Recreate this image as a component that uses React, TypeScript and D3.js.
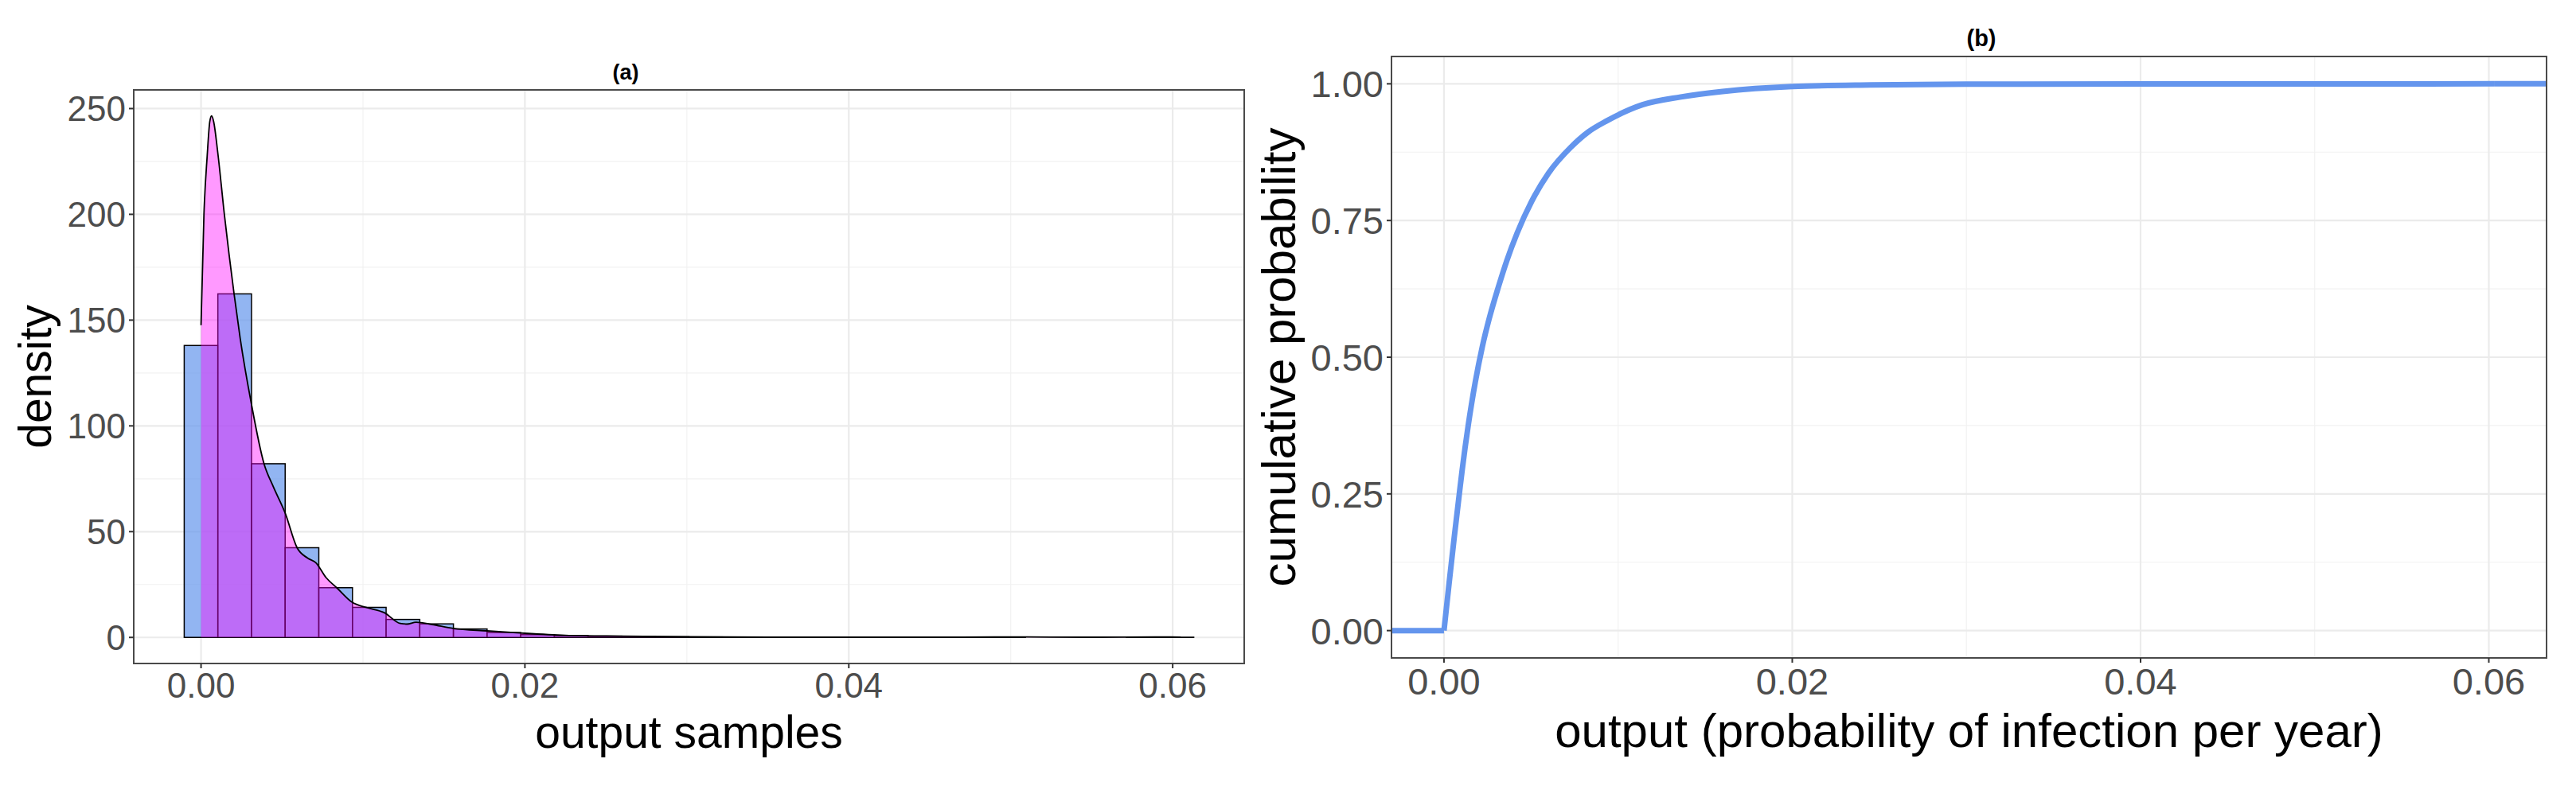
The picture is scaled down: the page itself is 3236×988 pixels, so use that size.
import * as d3 from 'd3';
import { useEffect, useRef } from 'react';

const W = 3236;
const H = 988;

// (a) histogram of output samples: density in each bin, bins centred on k * binWidth
const binWidth = 0.002078;
const binDensity = [
  138.0, 162.4, 82.1, 42.4, 23.5, 14.2, 8.5, 6.4, 4.0, 2.3, 1.3, 0.9, 0.6, 0.4, 0.3,
  0.2, 0.15, 0.1, 0.1, 0.05, 0.05, 0.05, 0.05, 0.1, 0.05, 0, 0, 0, 0.05, 0.1,
];

// (a) kernel density of the same samples
const densX = [
  0, 0.00018, 0.00038, 0.00054, 0.00065, 0.00078, 0.00103, 0.00144, 0.00204, 0.00242,
  0.0031, 0.00389, 0.00446, 0.0052, 0.00593, 0.00658, 0.00708, 0.00773, 0.00838, 0.00935,
  0.01018, 0.01132, 0.0123, 0.01271, 0.01328, 0.01426, 0.01557, 0.01765, 0.01949, 0.0225,
  0.026, 0.03, 0.035, 0.04, 0.045, 0.049, 0.051, 0.055, 0.059, 0.0605,
];
const densY = [
  147.6, 200, 227.6, 243.8, 246.5, 243.8, 229.4, 200, 162.4, 141.3,
  110.8, 82.1, 71.3, 58.7, 42.4, 37.5, 35.4, 28.2, 23.5, 16.5,
  14.2, 11.7, 6.6, 6.3, 7.2, 6.1, 4.3, 3.1, 2.2, 1.0,
  0.6, 0.3, 0.15, 0.1, 0.08, 0.25, 0.2, 0.08, 0.2, 0.15,
];

// (b) empirical cumulative distribution
const cdfX = [
  0, 0.0003, 0.0006, 0.0009, 0.00104, 0.0014, 0.0018, 0.0022, 0.0026, 0.00312,
  0.0036, 0.0042, 0.0052, 0.006, 0.00727, 0.0083, 0.00935, 0.0114, 0.0136, 0.016,
  0.02, 0.0245, 0.03, 0.04, 0.0603,
];
const cdfY = [
  0, 0.0885, 0.174, 0.2555, 0.2925, 0.377, 0.455, 0.519, 0.571, 0.628,
  0.676, 0.727, 0.795, 0.8366, 0.8836, 0.9124, 0.9324, 0.9618, 0.976, 0.986,
  0.995, 0.998, 0.9993, 0.9998, 1,
];

const xTicksA = [0, 0.02, 0.04, 0.06];
const yTicksA = [0, 50, 100, 150, 200, 250];
const xTicksB = [0, 0.02, 0.04, 0.06];
const yTicksB = [0, 0.25, 0.5, 0.75, 1];

const FONT = '"Liberation Sans", Arial, sans-serif';

// ggplot style 5% expansion
const expand = (lo, hi) => {
  const p = (hi - lo) * 0.05;
  return [lo - p, hi + p];
};

const midpoints = (ticks, step, dom) => {
  const out = [];
  for (let i = -1; i < ticks.length; i++) {
    const m = (i < 0 ? ticks[0] - step : ticks[i]) + step / 2;
    if (m > dom[0] && m < dom[1]) out.push(m);
  }
  return out;
};

function drawFrame(g, cfg) {
  const { x, y, xTicks, yTicks, xStep, yStep } = cfg;
  const [x0, x1] = x.range();
  const [y0, y1] = y.range();

  // minor grid
  g.append('g')
    .selectAll('line')
    .data(midpoints(xTicks, xStep, x.domain()))
    .join('line')
    .attr('x1', (d) => x(d)).attr('x2', (d) => x(d))
    .attr('y1', y0).attr('y2', y1)
    .attr('stroke', '#F2F2F2').attr('stroke-width', 1.2);
  g.append('g')
    .selectAll('line')
    .data(midpoints(yTicks, yStep, y.domain()))
    .join('line')
    .attr('y1', (d) => y(d)).attr('y2', (d) => y(d))
    .attr('x1', x0).attr('x2', x1)
    .attr('stroke', '#F2F2F2').attr('stroke-width', 1.2);
  // major grid
  g.append('g')
    .selectAll('line')
    .data(xTicks)
    .join('line')
    .attr('x1', (d) => x(d)).attr('x2', (d) => x(d))
    .attr('y1', y0).attr('y2', y1)
    .attr('stroke', '#EBEBEB').attr('stroke-width', 2.2);
  g.append('g')
    .selectAll('line')
    .data(yTicks)
    .join('line')
    .attr('y1', (d) => y(d)).attr('y2', (d) => y(d))
    .attr('x1', x0).attr('x2', x1)
    .attr('stroke', '#EBEBEB').attr('stroke-width', 2.2);
}

function drawAxes(g, cfg) {
  const { x, y, xTicks, yTicks, tickFont, xFmt, yFmt, xTitle, yTitle, titleFont, xTitleY, yTitleX } = cfg;
  const [x0, x1] = x.range();
  const [y0, y1] = y.range();

  g.append('rect')
    .attr('x', x0).attr('y', y1)
    .attr('width', x1 - x0).attr('height', y0 - y1)
    .attr('fill', 'none').attr('stroke', '#4a4a4a').attr('stroke-width', 2);

  // x ticks
  g.append('g')
    .selectAll('line')
    .data(xTicks)
    .join('line')
    .attr('x1', (d) => x(d)).attr('x2', (d) => x(d))
    .attr('y1', y0).attr('y2', y0 + 6)
    .attr('stroke', '#333').attr('stroke-width', 2);
  g.append('g')
    .selectAll('text')
    .data(xTicks)
    .join('text')
    .attr('x', (d) => x(d))
    .attr('y', y0 + 6 + tickFont * 0.85)
    .attr('text-anchor', 'middle')
    .attr('font-family', FONT).attr('font-size', tickFont)
    .attr('fill', '#4D4D4D')
    .text(xFmt);

  // y ticks
  g.append('g')
    .selectAll('line')
    .data(yTicks)
    .join('line')
    .attr('y1', (d) => y(d)).attr('y2', (d) => y(d))
    .attr('x1', x0 - 6).attr('x2', x0)
    .attr('stroke', '#333').attr('stroke-width', 2);
  g.append('g')
    .selectAll('text')
    .data(yTicks)
    .join('text')
    .attr('x', x0 - 10)
    .attr('y', (d) => y(d) + tickFont * 0.36)
    .attr('text-anchor', 'end')
    .attr('font-family', FONT).attr('font-size', tickFont)
    .attr('fill', '#4D4D4D')
    .text(yFmt);

  // axis titles
  g.append('text')
    .attr('x', (x0 + x1) / 2)
    .attr('y', xTitleY)
    .attr('text-anchor', 'middle')
    .attr('font-family', FONT).attr('font-size', titleFont)
    .attr('fill', 'black')
    .text(xTitle);
  g.append('text')
    .attr('transform', `translate(${yTitleX}, ${(y0 + y1) / 2}) rotate(-90)`)
    .attr('text-anchor', 'middle')
    .attr('font-family', FONT).attr('font-size', titleFont)
    .attr('fill', 'black')
    .text(yTitle);
}

const App = () => {
  const ref = useRef(null);

  useEffect(() => {
    document.body.style.margin = '0';
    const svg = d3.select(ref.current);
    svg.selectAll('*').remove();

    svg.append('rect').attr('width', W).attr('height', H).attr('fill', 'white');

    // ---------- (a) histogram + density ----------
    const lastEdge = (binDensity.length - 0.5) * binWidth;
    const xA = d3.scaleLinear().domain(expand(-binWidth / 2, lastEdge)).range([168, 1563]);
    const yA = d3.scaleLinear().domain(expand(0, d3.max(densY))).range([834, 113]);
    const gA = svg.append('g');
    const cfgA = {
      x: xA, y: yA, xTicks: xTicksA, yTicks: yTicksA, xStep: 0.02, yStep: 50,
      tickFont: 44, xFmt: d3.format('.2f'), yFmt: d3.format('d'),
      xTitle: 'output samples', yTitle: 'density', titleFont: 57,
      xTitleY: 940, yTitleX: 64,
    };
    drawFrame(gA, cfgA);

    gA.append('g')
      .selectAll('rect')
      .data(binDensity)
      .join('rect')
      .attr('x', (d, i) => xA((i - 0.5) * binWidth))
      .attr('width', xA(binWidth) - xA(0))
      .attr('y', (d) => yA(d))
      .attr('height', (d) => yA(0) - yA(d))
      .attr('fill', '#6495ED').attr('fill-opacity', 0.7)
      .attr('stroke', 'black').attr('stroke-width', 1.5);

    const dens = densX.map((v, i) => [v, densY[i]]);
    gA.append('path')
      .datum(dens)
      .attr('d', d3.area().x((d) => xA(d[0])).y0(yA(0)).y1((d) => yA(d[1])).curve(d3.curveMonotoneX))
      .attr('fill', '#FF00FF').attr('fill-opacity', 0.4);
    gA.append('path')
      .datum(dens)
      .attr('d', d3.line().x((d) => xA(d[0])).y((d) => yA(d[1])).curve(d3.curveMonotoneX))
      .attr('fill', 'none').attr('stroke', 'black').attr('stroke-width', 1.8);

    drawAxes(gA, cfgA);
    gA.append('text')
      .attr('x', 786).attr('y', 100)
      .attr('text-anchor', 'middle')
      .attr('font-family', FONT).attr('font-size', 27).attr('font-weight', 'bold')
      .text('(a)');

    // ---------- (b) cumulative distribution ----------
    const xB = d3.scaleLinear().domain(expand(d3.min(cdfX), d3.max(cdfX))).range([1748, 3199]);
    const yB = d3.scaleLinear().domain(expand(0, 1)).range([827, 71]);
    const gB = svg.append('g');
    const cfgB = {
      x: xB, y: yB, xTicks: xTicksB, yTicks: yTicksB, xStep: 0.02, yStep: 0.25,
      tickFont: 47, xFmt: d3.format('.2f'), yFmt: d3.format('.2f'),
      xTitle: 'output (probability of infection per year)', yTitle: 'cumulative probability',
      titleFont: 60, xTitleY: 939, yTitleX: 1627,
    };
    drawFrame(gB, cfgB);

    const [bx0, bx1] = xB.domain();
    const cdf = cdfX.map((v, i) => [v, cdfY[i]]);
    const straight = d3.line().x((d) => xB(d[0])).y((d) => yB(d[1]));
    const smooth = d3.line().x((d) => xB(d[0])).y((d) => yB(d[1])).curve(d3.curveMonotoneX);
    gB.append('path')
      .datum([[bx0, 0], cdf[0]])
      .attr('d', straight)
      .attr('fill', 'none').attr('stroke', '#6495ED').attr('stroke-width', 7);
    gB.append('path')
      .datum(cdf)
      .attr('d', smooth)
      .attr('fill', 'none').attr('stroke', '#6495ED').attr('stroke-width', 7)
      .attr('stroke-linejoin', 'round');
    gB.append('path')
      .datum([cdf[cdf.length - 1], [bx1, 1]])
      .attr('d', straight)
      .attr('fill', 'none').attr('stroke', '#6495ED').attr('stroke-width', 7);

    drawAxes(gB, cfgB);
    gB.append('text')
      .attr('x', 2489).attr('y', 58)
      .attr('text-anchor', 'middle')
      .attr('font-family', FONT).attr('font-size', 29).attr('font-weight', 'bold')
      .text('(b)');
  }, []);

  return <svg ref={ref} width={W} height={H} style={{ display: 'block' }}></svg>;
};

export default App;
